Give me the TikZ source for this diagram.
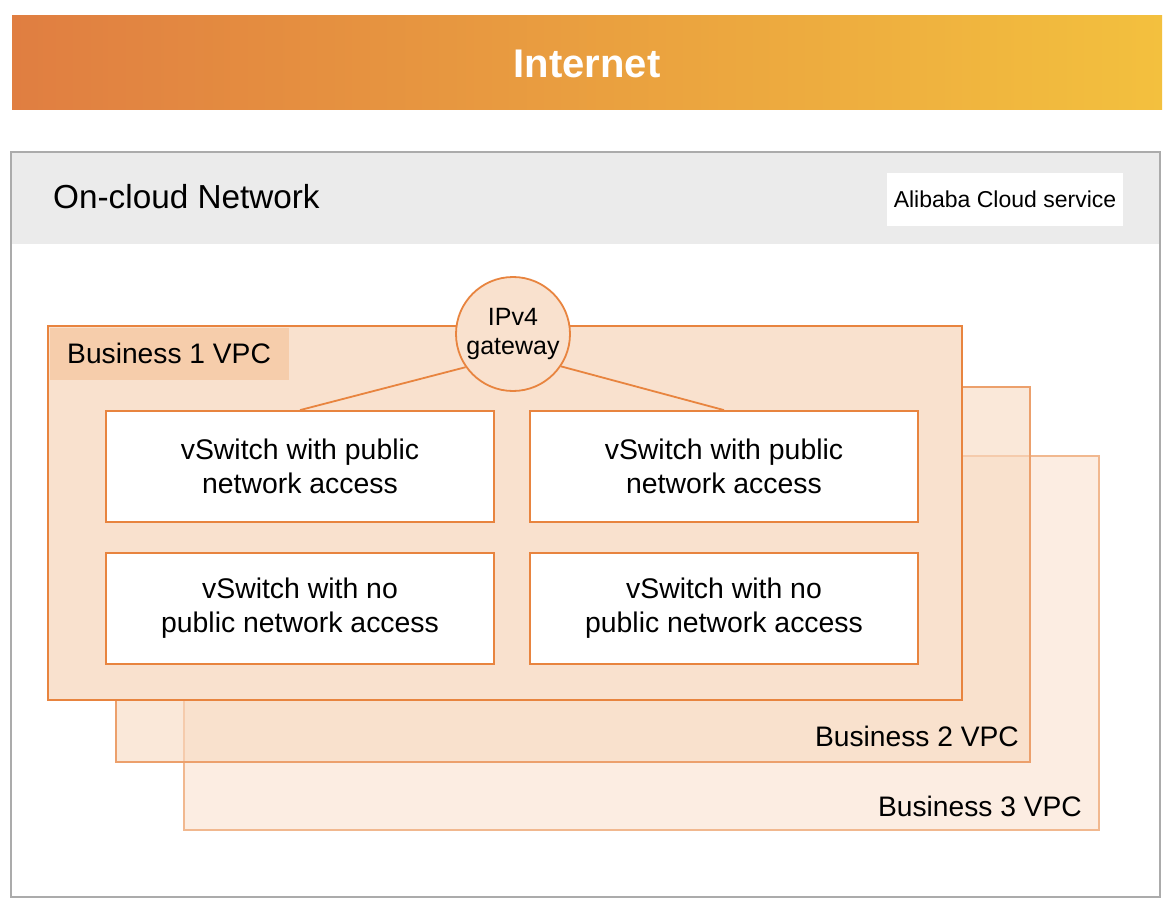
\documentclass[tikz,border=0pt]{standalone}
\usepackage{fontspec}
\setmainfont{Liberation Sans}
\begin{document}
\begin{tikzpicture}[x=1pt,y=-1pt,
  box/.style={draw=#1,line width=1.6pt,rectangle,inner sep=0pt},
  swbox/.style={draw=vpcone,fill=white,line width=1.8pt,rectangle,inner sep=0pt,
     minimum width=388pt,minimum height=111pt,align=center,
     font=\fontsize{28.4}{34}\selectfont},
  vlabel/.style={font=\fontsize{28.2}{32}\selectfont,inner sep=0pt},
  link/.style={draw=vpcone,line width=1.8pt}
]
\definecolor{vpcone}{HTML}{E8843F}
\definecolor{vpctwo}{HTML}{ECA06C}
\definecolor{vpcthree}{HTML}{F1B88F}
\definecolor{graybd}{HTML}{ABABAB}
\definecolor{grayband}{HTML}{EBEBEB}
\useasboundingbox (0,0) rectangle (1168,912);
\fill[white] (0,0) rectangle (1168,912);
% Internet bar
\shade[left color={rgb,255:red,224;green,126;blue,65}, right color={rgb,255:red,243;green,192;blue,62}] (12,16) rectangle (1162,110);
\node[text=white,font=\bfseries\fontsize{40}{44}\selectfont] (internet) at (587,64) {Internet};
% On-cloud network
\fill[grayband] (11,152) rectangle (1160,244);
\node[draw=graybd,line width=1.6pt,rectangle,inner sep=0pt,minimum width=1149pt,minimum height=745pt] (cloud) at (585.5,524.5) {};
\node[anchor=base west,inner sep=0pt,font=\fontsize{33.3}{36}\selectfont] (cloudlbl) at (53,209) {On-cloud Network};
\node[fill=white,rectangle,inner sep=0pt,minimum width=236pt,minimum height=53pt,font=\fontsize{23}{26}\selectfont] (ali) at (1005,199.5) {Alibaba Cloud service};
% VPC 3
\node[box=vpcthree,fill={rgb,255:red,252;green,237;blue,226},minimum width=915pt,minimum height=374pt] (vpc3) at (641.5,643) {};
\node[vlabel,anchor=base east] (vpc3lbl) at (1082,816) {Business 3 VPC};
% VPC 2
\node[box=vpctwo,fill={rgb,255:red,248;green,217;blue,192},fill opacity=0.6,draw opacity=1,minimum width=914pt,minimum height=375pt] (vpc2) at (573,574.5) {};
\node[vlabel,anchor=base east] (vpc2lbl) at (1019,746) {Business 2 VPC};
% VPC 1
\node[box=vpcone,fill={rgb,255:red,249;green,225;blue,206},minimum width=914pt,minimum height=374pt] (vpc1) at (505,513) {};
\node[fill={rgb,255:red,246;green,205;blue,171},rectangle,anchor=north west,inner sep=0pt,minimum width=239pt,minimum height=52pt] (vpc1bg) at (50,328) {};
\node[vlabel,anchor=base west] (vpc1lbl) at (67,363) {Business 1 VPC};
% gateway
\node[circle,draw=vpcone,line width=1.8pt,fill={rgb,255:red,249;green,225;blue,206},minimum size=114pt,inner sep=0pt,align=center,font=\fontsize{25}{29}\selectfont] (gw) at (513,334) {IPv4\\gateway};
% vSwitches
\node[swbox] (sw1) at (300,466.5) {vSwitch with public\\network access};
\node[swbox] (sw2) at (724,466.5) {vSwitch with public\\network access};
\node[swbox] (sw3) at (300,608.5) {vSwitch with no\\public network access};
\node[swbox] (sw4) at (724,608.5) {vSwitch with no\\public network access};
\draw[link] (gw.215) -- (sw1.north);
\draw[link] (gw.326) -- (sw2.north);
\end{tikzpicture}
\end{document}
